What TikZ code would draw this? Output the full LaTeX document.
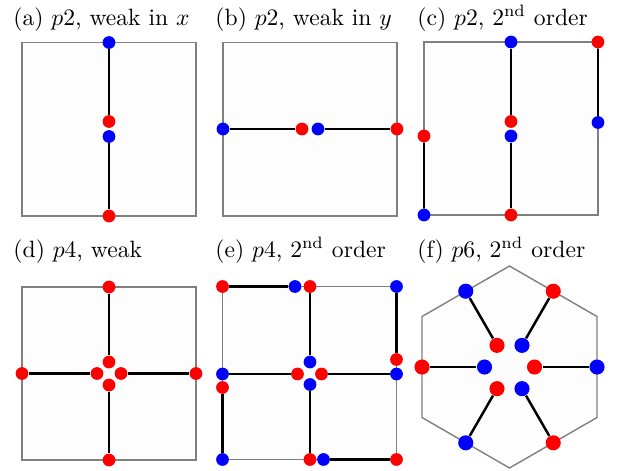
\documentclass[tikz,border=0pt]{standalone}
\begin{document}
\begin{tikzpicture}[x=0.4237pt,y=-0.4237pt,
  frame/.style={draw=black!50,fill=black!0.8,line width=0.6pt},
  link/.style={draw=black,line width=1.05pt},
  rdot/.style={circle,fill=red,inner sep=0pt,minimum size=5.4pt},
  bdot/.style={circle,fill=blue,inner sep=0pt,minimum size=5.4pt},
  rbig/.style={circle,fill=red,inner sep=0pt,minimum size=6.4pt},
  bbig/.style={circle,fill=blue,inner sep=0pt,minimum size=6.4pt},
  ttl/.style={anchor=base west,inner sep=0pt}]
\useasboundingbox (0,0) rectangle (617,470);
% titles
\node[ttl] (ta) at (13,25) {(a) $p2$, weak in $x$};
\node[ttl] (tb) at (215,25) {(b) $p2$, weak in $y$};
\node[ttl] (tc) at (417,25) {(c) $p2$, $2^{\mathrm{nd}}$ order};
\node[ttl] (td) at (13,257) {(d) $p4$, weak};
\node[ttl] (te) at (215,257) {(e) $p4$, $2^{\mathrm{nd}}$ order};
\node[ttl] (tf) at (417,257) {(f) $p6$, $2^{\mathrm{nd}}$ order};
% frames
\draw[frame] (22,42.5) rectangle (196,216);
\draw[frame] (223,42.5) rectangle (397,216);
\draw[frame] (424,42) rectangle (598,215);
\draw[frame] (22,287) rectangle (196,460);
\draw[frame] (222.5,286.5) rectangle (396.5,459.5);
\draw[frame] (509.5,266) -- (597,316.5) -- (597,417.5) -- (509.5,468) -- (422,417.5) -- (422,316.5) -- cycle;
% (a)
\node[bdot] (a1) at (109,42.5) {};
\node[rdot] (a2) at (109,121.5) {};
\node[bdot] (a3) at (109,136.5) {};
\node[rdot] (a4) at (109,216) {};
\draw[link] (a1) -- (a2); \draw[link] (a3) -- (a4);
% (b)
\node[bdot] (b1) at (223,129) {};
\node[rdot] (b2) at (302,129) {};
\node[bdot] (b3) at (318,129) {};
\node[rdot] (b4) at (397,129) {};
\draw[link] (b1) -- (b2); \draw[link] (b3) -- (b4);
% (c)
\node[bdot] (c1) at (511,42) {};
\node[rdot] (c2) at (511,121.5) {};
\node[bdot] (c3) at (511,136) {};
\node[rdot] (c4) at (511,215) {};
\node[rdot] (c5) at (424,136) {};
\node[bdot] (c6) at (424,215) {};
\node[rdot] (c7) at (598,42) {};
\node[bdot] (c8) at (598,122.5) {};
\draw[link] (c1) -- (c2); \draw[link] (c3) -- (c4);
\draw[link] (c5) -- (c6); \draw[link] (c7) -- (c8);
% (d)
\node[rdot] (d1) at (109,287) {};
\node[rdot] (d2) at (109,362) {};
\node[rdot] (d3) at (109,385) {};
\node[rdot] (d4) at (109,460) {};
\node[rdot] (d5) at (22,373.5) {};
\node[rdot] (d6) at (97,373.5) {};
\node[rdot] (d7) at (121,373.5) {};
\node[rdot] (d8) at (196,373.5) {};
\draw[link] (d1) -- (d2); \draw[link] (d3) -- (d4);
\draw[link] (d5) -- (d6); \draw[link] (d7) -- (d8);
% (e)
\node[rdot] (e1) at (222.5,286.5) {};
\node[bdot] (e2) at (295,286.5) {};
\node[rdot] (e3) at (310,286.5) {};
\node[bdot] (e4) at (310,362) {};
\node[bdot] (e5) at (396.5,286.5) {};
\node[rdot] (e6) at (396.5,359.5) {};
\node[bdot] (e7) at (222.5,374) {};
\node[rdot] (e8) at (297.5,374) {};
\node[rdot] (e9) at (321.5,374) {};
\node[bdot] (e10) at (396.5,374) {};
\node[rdot] (e11) at (222.5,387.5) {};
\node[bdot] (e12) at (222.5,459.5) {};
\node[bdot] (e13) at (310,384.5) {};
\node[rdot] (e14) at (310,459.5) {};
\node[bdot] (e15) at (323.5,459.5) {};
\node[rdot] (e16) at (396.5,459.5) {};
\draw[link] (e1) -- (e2); \draw[link] (e3) -- (e4);
\draw[link] (e5) -- (e6); \draw[link] (e7) -- (e8);
\draw[link] (e9) -- (e10); \draw[link] (e11) -- (e12);
\draw[link] (e13) -- (e14); \draw[link] (e15) -- (e16);
% (f)
\begin{scope}[shift={(509.5,367)}]
\node[bbig] (fo0) at (87.5,0) {};
\node[rbig] (fi0) at (25,0) {};
\node[rbig] (fo60) at (43.75,-75.8) {};
\node[bbig] (fi60) at (12.5,-21.65) {};
\node[bbig] (fo120) at (-43.75,-75.8) {};
\node[rbig] (fi120) at (-12.5,-21.65) {};
\node[rbig] (fo180) at (-87.5,0) {};
\node[bbig] (fi180) at (-25,0) {};
\node[bbig] (fo240) at (-43.75,75.8) {};
\node[rbig] (fi240) at (-12.5,21.65) {};
\node[rbig] (fo300) at (43.75,75.8) {};
\node[bbig] (fi300) at (12.5,21.65) {};
\end{scope}
\draw[link] (fo0) -- (fi0); \draw[link] (fo60) -- (fi60);
\draw[link] (fo120) -- (fi120); \draw[link] (fo180) -- (fi180);
\draw[link] (fo240) -- (fi240); \draw[link] (fo300) -- (fi300);
\end{tikzpicture}
\end{document}
